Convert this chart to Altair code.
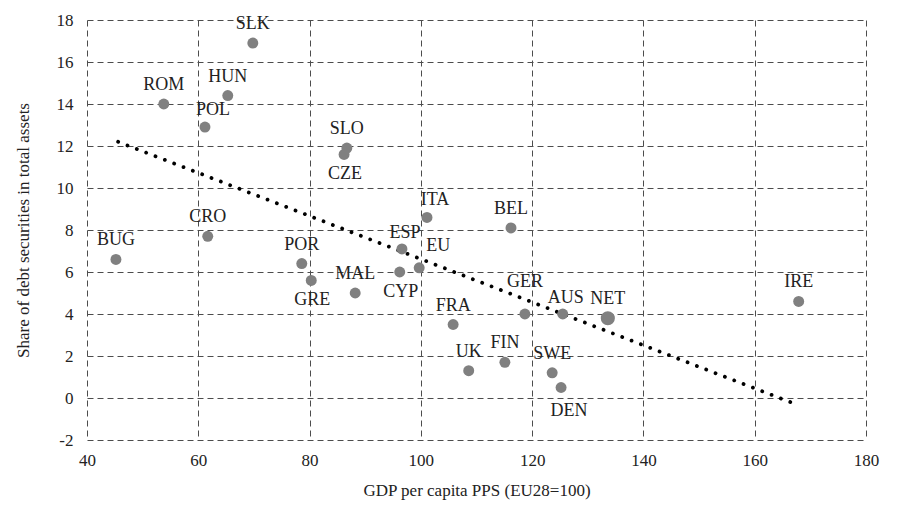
import altair as alt
import pandas as pd

countries = ["SLK", "ROM", "HUN", "POL", "SLO", "CZE", "CRO", "BUG", "POR", "GRE",
             "MAL", "CYP", "ESP", "EU", "ITA", "BEL", "FRA", "GER", "AUS", "NET",
             "UK", "FIN", "SWE", "DEN", "IRE"]
gdp = [69.8, 53.8, 65.3, 61.2, 86.7, 86.2, 61.7, 45.2, 78.6, 80.3,
       88.2, 96.2, 96.6, 99.7, 101.1, 116.2, 105.8, 118.7, 125.5, 133.6,
       108.6, 115.1, 123.6, 125.2, 167.9]
share = [16.9, 14.0, 14.4, 12.9, 11.9, 11.6, 7.7, 6.6, 6.4, 5.6,
         5.0, 6.0, 7.1, 6.2, 8.6, 8.1, 3.5, 4.0, 4.0, 3.8,
         1.3, 1.7, 1.2, 0.5, 4.6]
big = ["NET"]

trend_x = [45.6, 167.9]
trend_y = [12.2, -0.35]

x_ticks = [40, 60, 80, 100, 120, 140, 160, 180]
y_ticks = [-2, 0, 2, 4, 6, 8, 10, 12, 14, 16, 18]

# label groups
lab_up = ["SLK", "ROM", "HUN", "SLO", "CRO", "BUG", "POR", "MAL", "BEL", "FRA",
          "UK", "FIN", "SWE", "IRE", "NET"]
lab_up_small = ["ESP", "AUS"]
lab_upright = ["POL", "ITA"]
lab_down = ["CZE", "GRE", "CYP"]
lab_down_right = ["DEN"]
lab_eu = ["EU"]
lab_high = ["GER"]

df = pd.DataFrame({"country": countries, "gdp": gdp, "share": share})
df["big"] = df["country"].isin(big)
tdf = pd.DataFrame({"gdp": trend_x, "share": trend_y})

FONT = "Liberation Serif, Times New Roman, serif"

xs = alt.Scale(domain=[40, 180], nice=False, zero=False)
ys = alt.Scale(domain=[-2, 18], nice=False, zero=False)

X = alt.X("gdp:Q", scale=xs,
          axis=alt.Axis(values=x_ticks, title="GDP per capita PPS (EU28=100)",
                        grid=True, gridDash=[6, 4], gridColor="#4d4d4d", gridWidth=1,
                        domain=False, ticks=False, labelPadding=12, titlePadding=14,
                        labelFlush=False, labelOverlap=False,
                        labelFontSize=17, titleFontSize=17, labelFont=FONT, titleFont=FONT,
                        labelColor="#222222", titleColor="#222222", titleFontWeight="normal"))
Y = alt.Y("share:Q", scale=ys,
          axis=alt.Axis(values=y_ticks, title="Share of debt securities in total assets",
                        grid=True, gridDash=[6, 4], gridColor="#4d4d4d", gridWidth=1,
                        domain=False, ticks=False, labelPadding=14, titlePadding=24,
                        labelFlush=False, labelOverlap=False,
                        labelExpr="'' + datum.value",
                        labelFontSize=17, titleFontSize=17, labelFont=FONT, titleFont=FONT,
                        labelColor="#222222", titleColor="#222222", titleFontWeight="normal"))

base = alt.Chart(df)

points = base.mark_circle(color="#808080", opacity=1).encode(
    x=X, y=Y,
    size=alt.Size("big:N", scale=alt.Scale(domain=[False, True], range=[120, 200]), legend=None),
)

trend = alt.Chart(tdf).mark_line(color="black", strokeWidth=3.8, strokeCap="round",
                                 strokeDash=[0.01, 10]).encode(x="gdp:Q", y="share:Q")


def labels(names, dx, dy):
    return base.transform_filter(alt.FieldOneOfPredicate(field="country", oneOf=names)).mark_text(
        font=FONT, fontSize=18, color="#222222", dx=dx, dy=dy, baseline="middle", align="center"
    ).encode(x="gdp:Q", y="share:Q", text="country:N")


chart = alt.layer(
    trend, points,
    labels(lab_up, 0, -19),
    labels(lab_up_small, 3, -16),
    labels(lab_upright, 8, -17),
    labels(lab_down, 1, 20),
    labels(lab_down_right, 8, 23),
    labels(lab_eu, 19, -22),
    labels(lab_high, 0, -32),
).properties(
    width=779, height=420,
    autosize=alt.AutoSizeParams(type="none"),
    padding={"left": 79, "top": 12, "right": 20, "bottom": 60},
).configure_view(stroke=None)

chart.save("out.html", embed_options={"renderer": "svg", "actions": False})
